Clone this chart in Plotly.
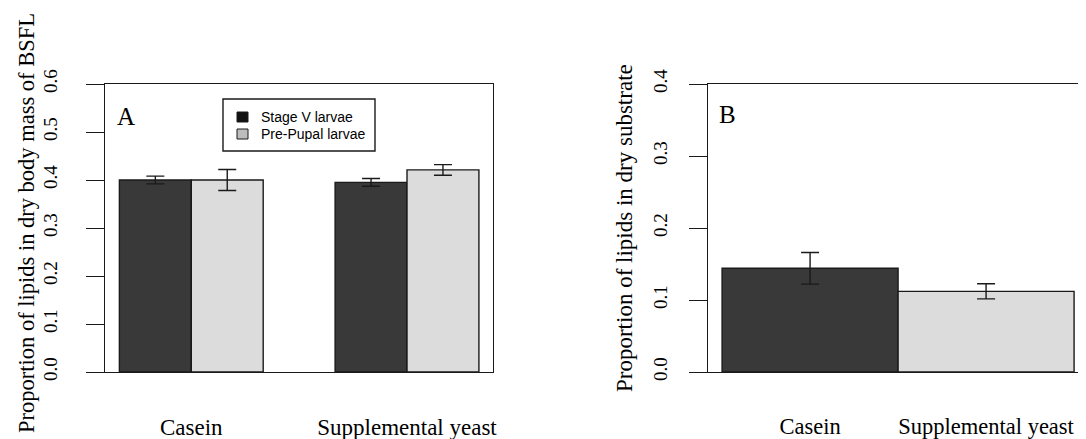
import plotly.graph_objects as go

# ---- data ----
categories = ["Casein", "Supplemental yeast"]
stage_v = [0.400, 0.395]
stage_v_err = [0.008, 0.008]
pre_pupal = [0.400, 0.421]
pre_pupal_err = [0.022, 0.011]

substrate = [0.144, 0.112]
substrate_err = [0.022, 0.0105]

left_ticks = [0.0, 0.1, 0.2, 0.3, 0.4, 0.5, 0.6]
right_ticks = [0.0, 0.1, 0.2, 0.3, 0.4]

series_names = ["Stage V larvae", "Pre-Pupal larvae"]

DARK = "#393939"
LIGHT = "#dcdcdc"
LINE = "#1a1a1a"
OFF = 8  # page body margin
W, H = 1086 - OFF, 439 - OFF
SERIF = "Liberation Serif"


def fx(px):
    return (px - OFF) / W


def fy(py):
    return (H - (py - OFF)) / H


fig = go.Figure()

err_style = dict(type="data", color=LINE, thickness=1.4, width=9)

fig.add_trace(go.Bar(
    x=categories, y=stage_v, name=series_names[0],
    error_y=dict(array=stage_v_err, **err_style),
    marker=dict(color=DARK, line=dict(color=LINE, width=1.4)),
    xaxis="x", yaxis="y", showlegend=False,
))
fig.add_trace(go.Bar(
    x=categories, y=pre_pupal, name=series_names[1],
    error_y=dict(array=pre_pupal_err, **err_style),
    marker=dict(color=LIGHT, line=dict(color=LINE, width=1.4)),
    xaxis="x", yaxis="y", showlegend=False,
))
fig.add_trace(go.Bar(
    x=categories, y=substrate, width=1.0,
    error_y=dict(array=substrate_err, **err_style),
    marker=dict(color=[DARK, LIGHT], line=dict(color=LINE, width=1.4)),
    xaxis="x2", yaxis="y2", showlegend=False,
))

ybot = fy(372)
ytop = fy(84)

axis_common = dict(showline=True, mirror=True, linecolor=LINE, linewidth=1.4,
                   showgrid=False, zeroline=False, automargin=False)

# panel B: 176 px per bar so the right label stays inside the visible page
x2_right = -0.58 + (OFF + W - 708) / 176.0

fig.update_layout(
    width=W, height=H,
    margin=dict(l=0, r=0, t=0, b=0, autoexpand=False),
    paper_bgcolor="white", plot_bgcolor="white",
    barmode="group", bargap=1/3, bargroupgap=0,
    font=dict(family=SERIF, color="black"),
    xaxis=dict(domain=[fx(105), fx(493.3)], range=[-0.4, 1.4], anchor="y",
               ticks="", ticklabelstandoff=34,
               tickfont=dict(size=23, family=SERIF, color="black"), **axis_common),
    yaxis=dict(domain=[ybot, ytop], range=[0, 0.6], anchor="x",
               tickvals=left_ticks, tickformat=".1f", ticks="outside", ticklen=18,
               tickwidth=1.4, tickcolor=LINE, tickangle=-90, ticklabelstandoff=21,
               tickfont=dict(size=19, family=SERIF, color="black"), **axis_common),
    xaxis2=dict(domain=[fx(708), 1.0], range=[-0.58, x2_right], anchor="y2",
                ticks="", ticklabelstandoff=34, ticklabeloverflow="allow",
                tickfont=dict(size=22.5, family=SERIF, color="black"), **axis_common),
    yaxis2=dict(domain=[ybot, ytop], range=[0, 0.4], anchor="x2",
                tickvals=right_ticks, tickformat=".1f", ticks="outside", ticklen=18,
                tickwidth=1.4, tickcolor=LINE, tickangle=-90, ticklabelstandoff=14,
                tickfont=dict(size=19, family=SERIF, color="black"), **axis_common),
)

annotations = [
    dict(text="Proportion of lipids in dry body mass of BSFL", x=fx(26), y=fy(223),
         xref="paper", yref="paper", xanchor="center", yanchor="middle",
         textangle=-90, showarrow=False, font=dict(size=22.5, family=SERIF)),
    dict(text="Proportion of lipids in dry substrate", x=fx(625), y=fy(228),
         xref="paper", yref="paper", xanchor="center", yanchor="middle",
         textangle=-90, showarrow=False, font=dict(size=23, family=SERIF)),
    dict(text="A", x=fx(115), y=fy(116), xref="paper", yref="paper",
         xanchor="left", yanchor="middle", showarrow=False,
         font=dict(size=25, family=SERIF)),
    dict(text="B", x=fx(717), y=fy(114), xref="paper", yref="paper",
         xanchor="left", yanchor="middle", showarrow=False,
         font=dict(size=25, family=SERIF)),
]

# manual legend (panel A)
shapes = [dict(type="rect", xref="paper", yref="paper",
               x0=fx(223), x1=fx(375), y0=fy(151), y1=fy(99),
               line=dict(color=LINE, width=1.4), fillcolor="white", layer="above")]
legend_fill = ["#111111", "#bdbdbd"]
row_y = [117, 134]
for name, fillc, ry in zip(series_names, legend_fill, row_y):
    shapes.append(dict(type="rect", xref="paper", yref="paper",
                       x0=fx(237), x1=fx(248), y0=fy(ry + 5), y1=fy(ry - 5),
                       line=dict(color=LINE, width=1), fillcolor=fillc, layer="above"))
    annotations.append(dict(text=name, x=fx(259), y=fy(ry), xref="paper",
                            yref="paper", xanchor="left", yanchor="middle",
                            showarrow=False,
                            font=dict(size=14, family="Liberation Sans", color="black")))

fig.update_layout(annotations=annotations, shapes=shapes)

fig.write_html("out.html")
